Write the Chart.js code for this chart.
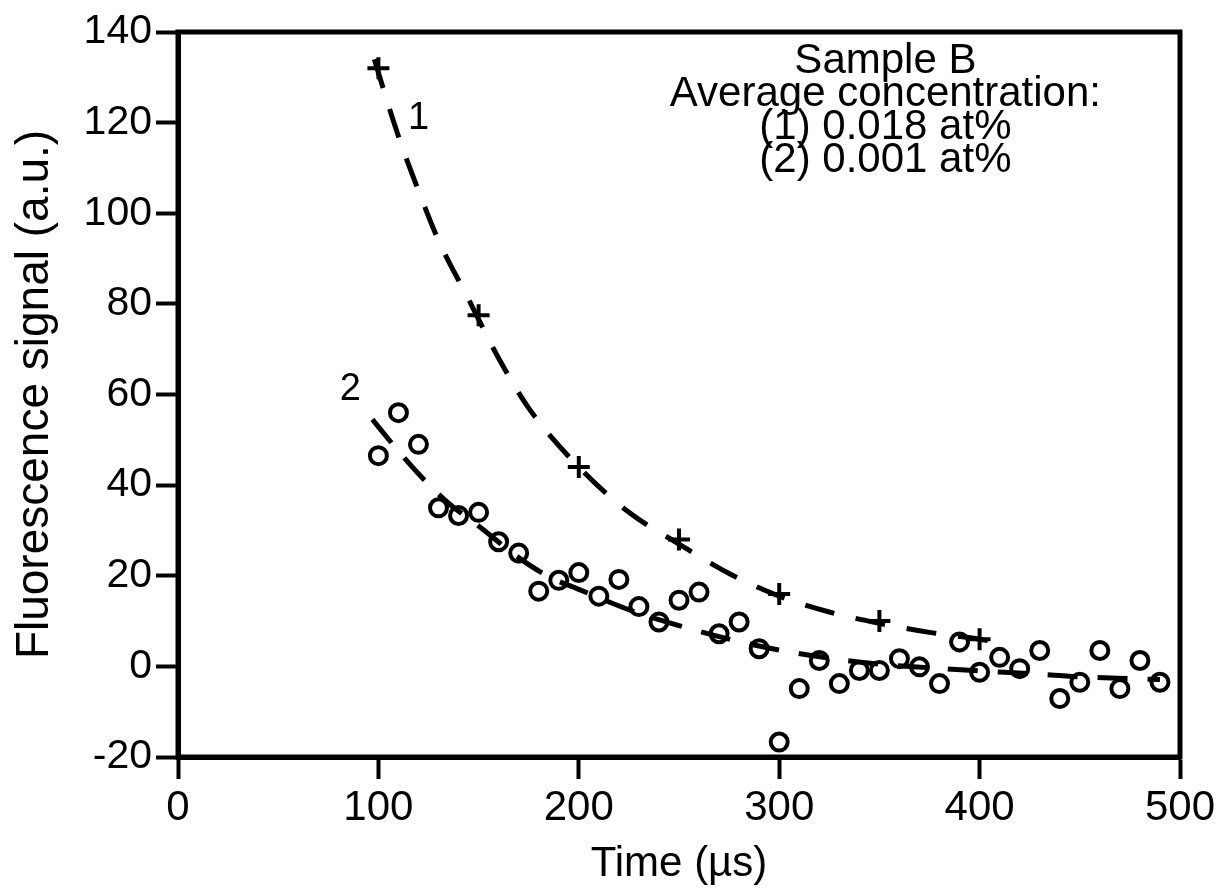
<!DOCTYPE html>
<html>
<head>
  <meta charset="utf-8">
  <title>Sample B fluorescence decay</title>
  <script src="https://cdn.jsdelivr.net/npm/chart.js"></script>
  <style>
    html, body {
      margin: 0;
      padding: 0;
      background: #fff;
    }
    .chart-box {
      width: 1230px;
      height: 890px;
    }
  </style>
</head>
<body>
  <div class="chart-box">
    <canvas id="decayChart"></canvas>
  </div>

  <script>
    // Curve 1 (0.018 at%): measured points, "+" markers
    const time1 = [100, 150, 200, 250, 300, 350, 400];
    const signal1 = [132, 77.5, 44, 28, 16, 10, 6];

    // Curve 1 fitted decay
    const fitTime1 = [98, 100, 110, 120, 130, 145, 160, 175, 200, 225, 250, 275, 300, 325, 350, 375, 400, 405];
    const fitSignal1 = [134, 131, 117, 105, 94, 81, 68, 57, 44, 34, 27, 20.5, 15.5, 12, 9.5, 7.5, 6, 5.6];

    // Curve 2 (0.001 at%): measured points, "o" markers
    const time2 = [100, 110, 120, 130, 140, 150, 160, 170, 180, 190,
                   200, 210, 220, 230, 240, 250, 260, 270, 280, 290,
                   300, 310, 320, 330, 340, 350, 360, 370, 380, 390,
                   400, 410, 420, 430, 440, 450, 460, 470, 480, 490];
    const signal2 = [46.5, 56, 49, 35, 33.3, 34, 27.5, 25, 16.6, 19,
                     20.7, 15.5, 19.2, 13.2, 9.8, 14.6, 16.4, 7.2, 9.8, 3.9,
                     -16.7, -4.9, 1.3, -3.8, -0.9, -0.9, 1.7, -0.1, -3.8, 5.4,
                     -1.3, 2, -0.5, 3.5, -7.1, -3.5, 3.5, -4.9, 1.3, -3.5];

    // Curve 2 fitted decay
    const fitTime2 = [97, 110, 120, 135, 150, 170, 185, 200, 225, 250, 275, 300, 325, 350, 375, 400, 425, 450, 475, 490];
    const fitSignal2 = [54.5, 47.5, 42.5, 36, 31, 24, 19.8, 17, 12.5, 9, 6, 3.6, 1.8, 0.5, -0.3, -1, -1.6, -2.3, -2.7, -2.9];

    // axis ticks
    const xTicks = [0, 100, 200, 300, 400, 500];
    const yTicks = [-20, 0, 20, 40, 60, 80, 100, 120, 140];

    // text written inside the plot
    const noteLines = ['Sample B', 'Average concentration:', '(1) 0.018 at%', '(2) 0.001 at%'];
    const curveLabels = [
      { text: '1', x: 120, y: 121 },
      { text: '2', x: 86, y: 61 }
    ];

    const FONT = "'Liberation Sans', Arial, Helvetica, sans-serif";
    const NARROW = "'Liberation Sans Narrow', 'Arial Narrow', 'Liberation Sans', Arial, sans-serif";

    function pairs(xs, ys) {
      return xs.map((x, i) => ({ x: x, y: ys[i] }));
    }

    // frame round the plot and the text notes
    const framePlugin = {
      id: 'frameAndNotes',
      afterDatasetsDraw(chart) {
        const ctx = chart.ctx;
        const a = chart.chartArea;
        const xs = chart.scales.x;
        const ys = chart.scales.y;
        ctx.save();
        ctx.strokeStyle = '#000';
        ctx.lineWidth = 5;
        ctx.strokeRect(a.left, a.top, a.right - a.left, a.bottom - a.top);

        ctx.fillStyle = '#000';
        ctx.textAlign = 'center';
        ctx.textBaseline = 'middle';
        ctx.font = '42px ' + FONT;
        const cx = xs.getPixelForValue(353);
        let cy = ys.getPixelForValue(133.5);
        noteLines.forEach(line => {
          ctx.fillText(line, cx, cy);
          cy += 33;
        });

        ctx.font = '38px ' + FONT;
        curveLabels.forEach(l => {
          ctx.fillText(l.text, xs.getPixelForValue(l.x), ys.getPixelForValue(l.y));
        });
        ctx.restore();
      }
    };

    const ctx = document.getElementById('decayChart').getContext('2d');
    new Chart(ctx, {
      type: 'line',
      data: {
        datasets: [
          {
            label: 'fit 1',
            data: pairs(fitTime1, fitSignal1),
            borderColor: '#000',
            borderWidth: 5,
            borderDash: [30, 22],
            pointRadius: 0,
            cubicInterpolationMode: 'monotone',
            fill: false,
            order: 3
          },
          {
            label: 'fit 2',
            data: pairs(fitTime2, fitSignal2),
            borderColor: '#000',
            borderWidth: 5,
            borderDash: [30, 20],
            pointRadius: 0,
            cubicInterpolationMode: 'monotone',
            fill: false,
            order: 3
          },
          {
            label: '(1) 0.018 at%',
            data: pairs(time1, signal1),
            showLine: false,
            pointStyle: 'cross',
            pointRadius: 11,
            pointBorderWidth: 4,
            pointBorderColor: '#000',
            order: 1
          },
          {
            label: '(2) 0.001 at%',
            data: pairs(time2, signal2),
            showLine: false,
            pointStyle: 'circle',
            pointRadius: 8.5,
            pointBorderWidth: 4,
            pointBorderColor: '#000',
            pointBackgroundColor: 'rgba(0,0,0,0)',
            order: 2
          }
        ]
      },
      options: {
        responsive: true,
        maintainAspectRatio: false,
        animation: false,
        layout: {
          padding: { left: 0, right: 50, top: 32, bottom: 0 }
        },
        plugins: {
          legend: { display: false },
          tooltip: { enabled: false }
        },
        scales: {
          x: {
            type: 'linear',
            min: 0,
            max: 500,
            afterBuildTicks: scale => {
              scale.ticks = xTicks.map(v => ({ value: v }));
            },
            afterFit: scale => {
              scale.height = 133;
            },
            grid: {
              drawOnChartArea: false,
              drawTicks: true,
              tickLength: 22,
              tickWidth: 4,
              tickColor: '#000'
            },
            border: { display: true, color: '#000', width: 5 },
            ticks: {
              color: '#000',
              padding: 4,
              maxRotation: 0,
              font: { family: NARROW, size: 42 }
            },
            title: {
              display: true,
              text: 'Time (\u00b5s)',
              color: '#000',
              padding: { top: 4, bottom: 0 },
              font: { family: FONT, size: 42 }
            }
          },
          y: {
            type: 'linear',
            min: -20,
            max: 140,
            afterBuildTicks: scale => {
              scale.ticks = yTicks.map(v => ({ value: v }));
            },
            afterFit: scale => {
              scale.width = 178;
            },
            grid: {
              drawOnChartArea: false,
              drawTicks: true,
              tickLength: 22,
              tickWidth: 4,
              tickColor: '#000'
            },
            border: { display: true, color: '#000', width: 5 },
            ticks: {
              color: '#000',
              padding: 4,
              font: { family: NARROW, size: 41 }
            },
            title: {
              display: true,
              text: 'Fluorescence signal (a.u.)',
              color: '#000',
              padding: { top: 8, bottom: 0 },
              font: { family: FONT, size: 46 }
            }
          }
        }
      },
      plugins: [framePlugin]
    });
  </script>
</body>
</html>
